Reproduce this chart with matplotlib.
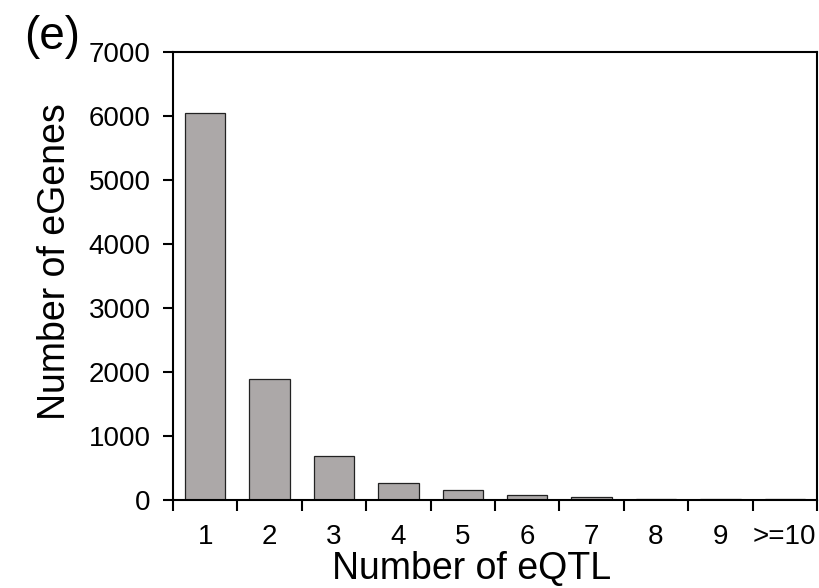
import matplotlib
matplotlib.use('Agg')
import matplotlib.pyplot as plt
import numpy as np

plt.rcParams['font.family'] = ['Liberation Sans', 'DejaVu Sans']

categories = ['1', '2', '3', '4', '5', '6', '7', '8', '9', '>=10']
n_egenes = [6050, 1890, 690, 265, 155, 80, 42, 15, 13, 20]
yticks = [0, 1000, 2000, 3000, 4000, 5000, 6000, 7000]

fig = plt.figure(figsize=(8.2, 5.88), dpi=100)
ax = fig.add_axes([173/820, 1 - 500/588, (817-173)/820, (500-52)/588])

x = np.arange(len(categories))
ax.bar(x, n_egenes, width=0.63, color='#aca8a8', edgecolor='#222222', linewidth=0.9)

ax.set_xlim(-0.5, len(categories) - 0.5)
ax.set_ylim(0, 7000)
ax.set_yticks(yticks)
ax.set_xticks(x)
ax.set_xticklabels(categories)
ax.set_xticks(np.arange(-0.5, len(categories)), minor=True)
ax.tick_params(axis='x', which='major', length=0, pad=17, labelsize=20)
ax.tick_params(axis='x', which='minor', length=8, width=1.5, direction='out')
ax.tick_params(axis='y', length=7, width=1.5, direction='out', labelsize=20, pad=9)
for s in ax.spines.values():
    s.set_linewidth(1.5)

ax.set_xlabel('Number of eQTL', fontsize=27)
ax.set_ylabel('Number of eGenes', fontsize=27)
ax.xaxis.set_label_coords(0.463, -0.154)
ax.xaxis.label.set_va('center')
ax.yaxis.set_label_coords(-0.183, 0.533)
ax.yaxis.label.set_va('center')
fig.text(52/820, 1 - 37/588, '(e)', fontsize=33, va='center', ha='center')

fig.savefig('out.png', dpi=100)
